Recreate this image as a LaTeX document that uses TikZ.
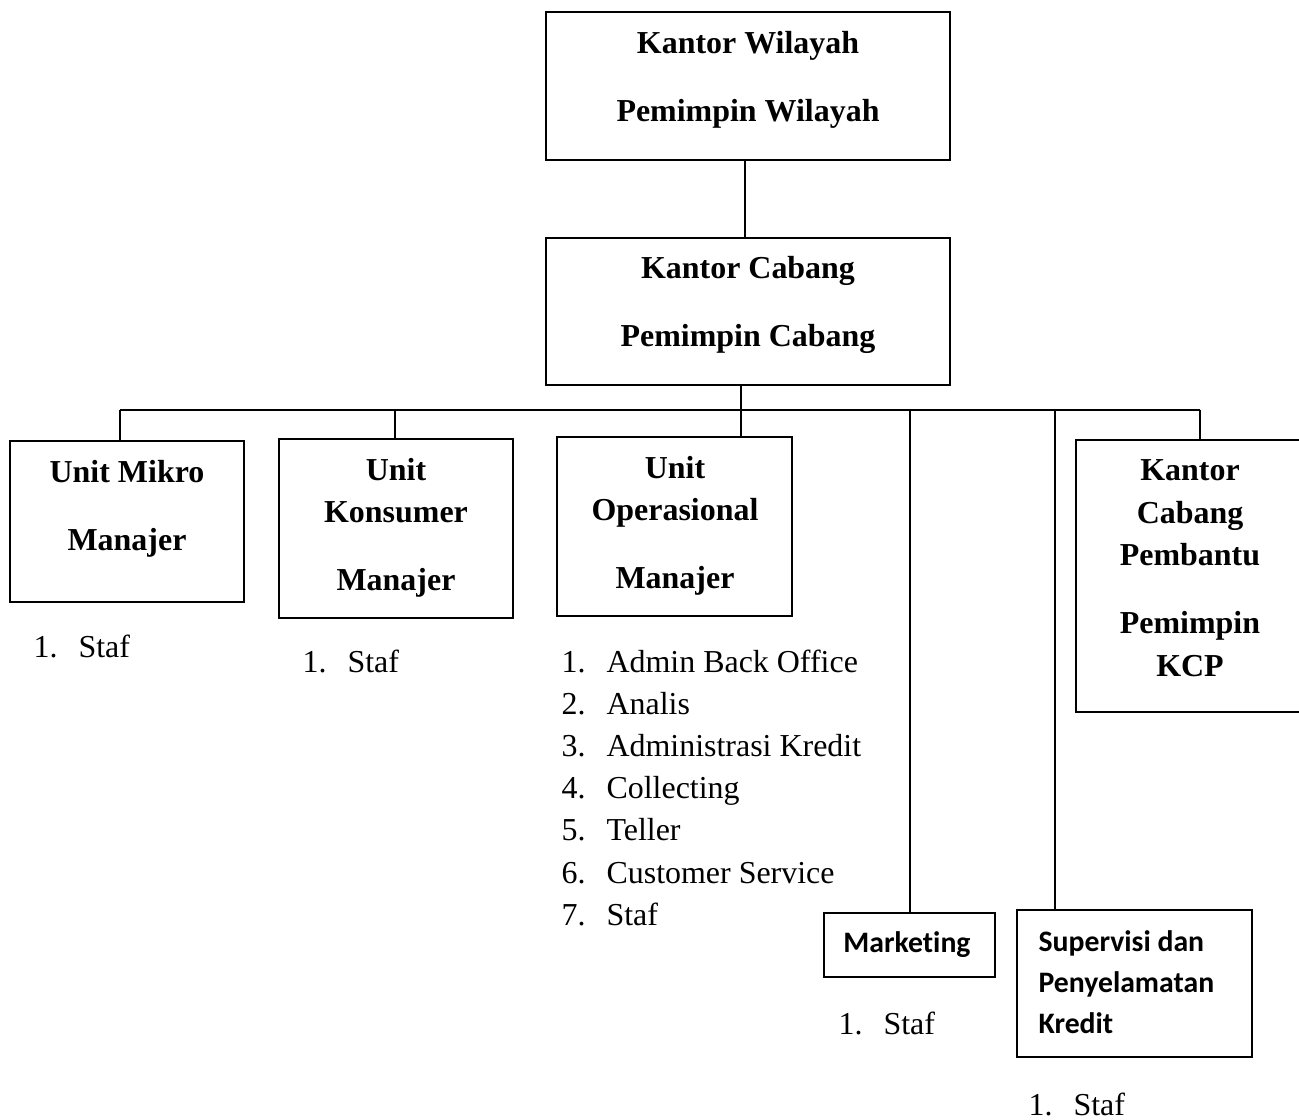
\documentclass[tikz,border=0pt]{standalone}
\usepackage{fontspec}
\setmainfont{Liberation Serif}
\newfontfamily\calibri[Ligatures=NoCommon]{Carlito}
\usetikzlibrary{fit}

\tikzstyle{office}     = [draw,line width=0.6pt,inner sep=0pt]
\tikzstyle{title}      = [align=center,inner sep=0pt,font=\bfseries\fontsize{11.5}{15.3}\selectfont]
\tikzstyle{smalltitle} = [align=left,inner sep=0pt,font=\calibri\bfseries\fontsize{10.7}{14.8}\selectfont]
\tikzstyle{item}       = [anchor=base west,inner sep=0pt,font=\fontsize{11.5}{15.2}\selectfont]
\tikzstyle{link}       = [line width=0.6pt]

\begin{document}
\begin{tikzpicture}[x=0.36pt,y=-0.36pt]
\useasboundingbox (0,0) rectangle (1299,1120);
% Draw the regional office and the branch office
\node[office,fit={(546,12) (950,160)}] (wilayah) {};
\node[title] (wilayah-title) at (748,80) {Kantor Wilayah\\[9.2pt]Pemimpin Wilayah};
\node[office,fit={(546,238) (950,385)}] (cabang) {};
\node[title] (cabang-title) at (748,305) {Kantor Cabang\\[9.2pt]Pemimpin Cabang};
\coordinate (spine) at (745,200);
\draw[link] (wilayah.south -| spine) -- (cabang.north -| spine);
% Draw the units under the branch
\node[office,fit={(10,441) (244,602)}] (mikro) {};
\node[title] (mikro-title) at (127,509) {Unit Mikro\\[9.2pt]Manajer};
\node[office,fit={(279,439) (513,618)}] (konsumer) {};
\node[title] (konsumer-title) at (396,528) {Unit\\Konsumer\\[9.2pt]Manajer};
\node[office,fit={(557,437) (792,616)}] (operasional) {};
\node[title] (operasional-title) at (675,526) {Unit\\Operasional\\[9.2pt]Manajer};
\node[office,fit={(1076,440) (1312,712)}] (kcp) {};
\node[title] (kcp-title) at (1190,568) {Kantor\\Cabang\\Pembantu\\[9.2pt]Pemimpin\\KCP};
\node[office,fit={(824,913) (995,977)}] (marketing) {};
\node[smalltitle] (marketing-title) at (907,945) {Marketing};
\node[office,fit={(1017,910) (1252,1057)}] (supervisi) {};
\node[smalltitle,anchor=west] (supervisi-title) at (1038,982) {Supervisi dan\\Penyelamatan\\Kredit};
% Draw the bus from the branch to every unit
\coordinate (hub) at (741,410);
\coordinate (bus west) at (120,410);
\coordinate (bus east) at (1200,410);
\draw[link] (cabang.south -| hub) -- (hub);
\draw[link] (bus west) -- (bus east);
\foreach \x/\unit in {120/mikro, 395/konsumer, 741/operasional, 910/marketing, 1055/supervisi, 1200/kcp}
{
  % drop a line onto the unit
  \coordinate (drop-\unit) at (\x,410);
  \draw[link] (drop-\unit) -- (drop-\unit |- \unit.north);
}
% Draw the staff lists
\node[item] (mikro-1) at (33,657) {\makebox[16.2pt][l]{1.}Staf};
\node[item] (konsumer-1) at (302,672) {\makebox[16.2pt][l]{1.}Staf};
\foreach \i/\task in {1/Admin Back Office, 2/Analis, 3/Administrasi Kredit, 4/Collecting, 5/Teller, 6/Customer Service, 7/Staf}
  \node[item] (operasional-\i) at (561,{672+(\i-1)*42.2}) {\makebox[16.2pt][l]{\i.}\task};
\node[item] (marketing-1) at (838,1034) {\makebox[16.2pt][l]{1.}Staf};
\node[item] (supervisi-1) at (1028,1115) {\makebox[16.2pt][l]{1.}Staf};
\end{tikzpicture}
\end{document}
